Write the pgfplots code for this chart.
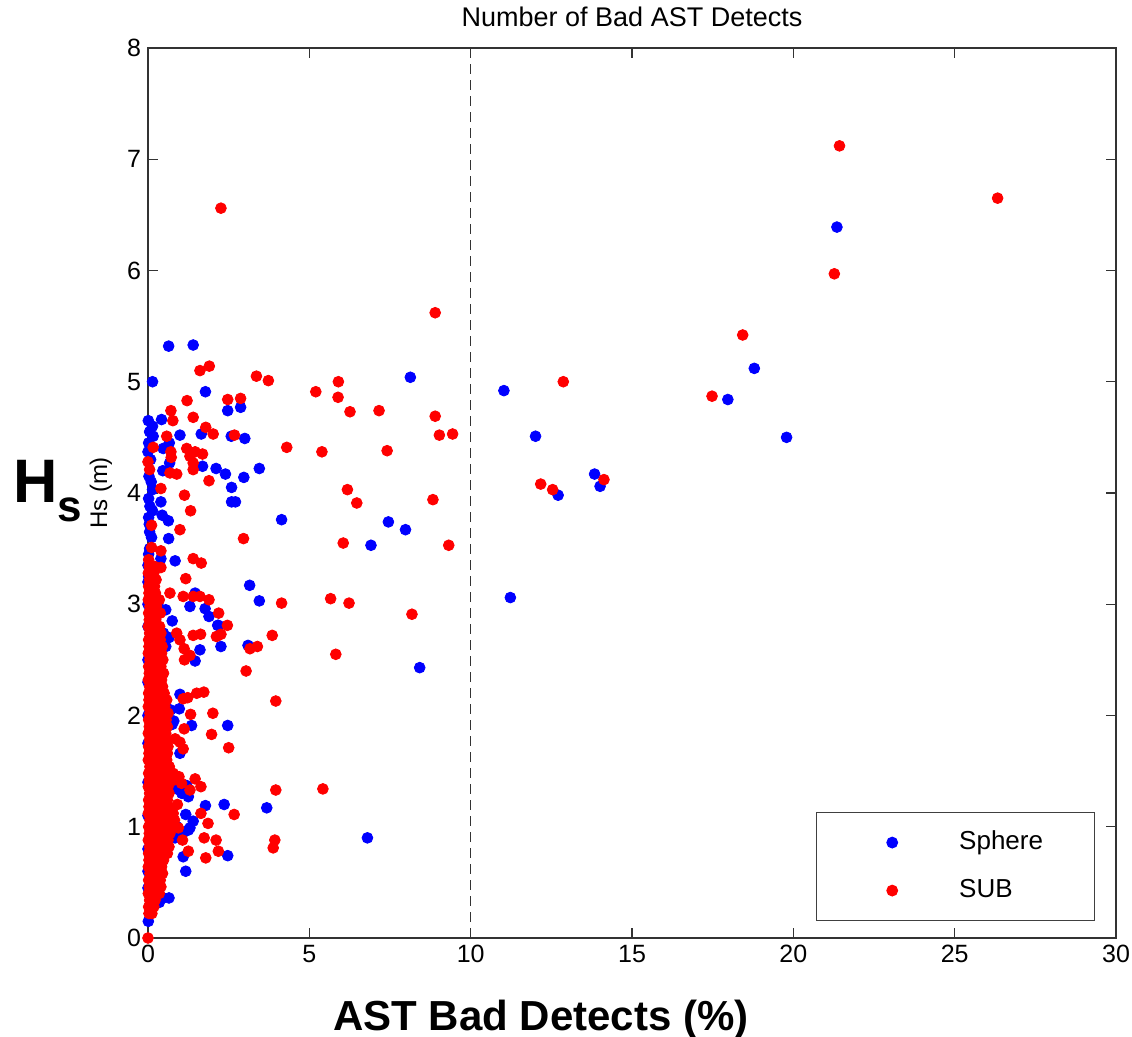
\documentclass[border=0pt]{standalone}
\usepackage{fontspec}
\setmainfont{Liberation Sans}
\usepackage{pgfplots}
\pgfplotsset{compat=1.18}

\begin{document}
\begin{tikzpicture}
\begin{axis}[
  scale only axis, width=484pt, height=445pt,
  xmin=0, xmax=30, ymin=0, ymax=8,
  xtick={0,5,...,30}, ytick={0,1,...,8},
  axis on top,
  axis line style={black!80, line width=0.55pt},
  every tick/.style={black!80, line width=0.55pt},
  major tick length=5pt,
  tick label style={font=\fontsize{12.5}{14}\selectfont},
  /pgf/number format/assume math mode=true,
  title={Number of Bad AST Detects},
  every axis title shift=0pt,
  title style={at={(axis description cs:0.5,1.0236)}, anchor=base, font=\fontsize{13.5}{15}\selectfont},
  xlabel={AST Bad Detects (\%)},
  xlabel style={at={(axis description cs:0.406,-0.1034)}, anchor=base, font=\fontsize{21}{24}\selectfont\bfseries},
  ylabel={Hs (m)},
  ylabel style={at={(axis description cs:-0.0486,0.5)}, anchor=center, font=\fontsize{12}{14}\selectfont},
  legend style={at={(axis description cs:0.978,0.019)}, anchor=south east,
    draw=black!75, line width=0.5pt, inner xsep=6pt, inner ysep=7.5pt, row sep=9pt,
    nodes={inner sep=1.5pt, text height=9.5pt, text depth=2.5pt, font=\fontsize{13}{15}\selectfont}},
  legend cell align=left,
  dotleg/.style={legend image code/.code={\path[draw=none] (0pt,0pt) -- (64pt,0pt);
    \draw[mark repeat=2,mark phase=2,##1,draw=none,mark options={draw=#1,fill=#1}] plot coordinates {(0pt,0pt) (32pt,0pt) (64pt,0pt)};}},
]
% Sphere
\addplot[only marks, mark=*, mark size=2.7pt, color=blue, dotleg=blue] coordinates {
(21.35,6.39) (19.79,4.50) (18.79,5.12) (17.97,4.84) (14.01,4.06) (13.84,4.17)
(12.71,3.98) (12.01,4.51) (11.03,4.92) (11.23,3.06) (8.13,5.04) (7.98,3.67)
(7.45,3.74) (6.91,3.53) (8.42,2.43) (6.80,0.90) (4.14,3.76) (3.45,4.22)
(3.45,3.03) (3.15,3.17) (3.10,2.63) (2.97,4.14) (3.00,4.49) (2.87,4.77)
(2.47,4.74) (2.58,4.51) (2.59,4.05) (2.59,3.92) (2.71,3.92) (2.40,4.17)
(2.11,4.22) (1.69,4.24) (1.65,4.53) (1.78,4.91) (1.40,5.33) (0.64,5.32)
(0.14,5.00) (0.99,4.52) (0.42,4.66) (0.01,4.65) (0.14,4.60) (0.16,4.51)
(0.66,4.45) (0.47,4.40) (0.00,4.37) (0.67,4.27) (0.46,4.20) (0.14,4.03)
(0.40,3.92) (0.14,3.84) (0.44,3.80) (0.63,3.75) (0.04,3.72) (0.11,3.60)
(0.64,3.59) (0.84,3.39) (0.40,3.41) (1.46,3.10) (1.30,2.98) (1.77,2.96)
(1.89,2.89) (2.16,2.81) (2.18,2.81) (0.48,2.74) (2.26,2.62) (1.61,2.59)
(1.46,2.49) (0.55,2.62) (0.99,2.19) (0.97,2.06) (2.47,1.91) (0.75,1.92)
(1.35,1.91) (0.99,1.66) (1.20,1.37) (1.25,1.27) (0.89,1.34) (1.78,1.19)
(2.36,1.20) (3.68,1.17) (1.17,1.11) (1.40,1.05) (1.30,0.99) (1.25,0.97)
(0.84,0.90) (2.47,0.74) (1.09,0.73) (1.17,0.60) (0.47,0.36) (0.65,0.36)
(0.01,0.15)
(0.05,4.55) (0.02,4.45) (0.08,4.30) (0.03,4.15) (0.10,4.10) (0.02,3.95)
(0.06,3.88) (0.02,3.78) (0.05,3.65) (0.02,3.45) (0.10,3.30) (0.02,3.25)
(0.30,3.00) (0.55,2.95) (0.75,2.85) (0.20,2.88) (0.65,2.70) (0.70,2.05)
(0.80,1.95) (0.80,1.45) (0.95,1.40) (1.05,1.30) (0.90,1.00) (1.10,0.95)
(0.35,0.32) (0.25,0.40) (0.00,3.20) (0.00,3.00) (0.00,2.80) (0.00,2.50)
(0.00,2.30) (0.00,2.00) (0.00,1.75) (0.00,1.40) (0.00,1.10) (0.00,0.80)
(0.00,0.60) (0.00,0.45) (0.00,3.35) (0.05,3.50)
};
\addlegendentry{\makebox[60pt][l]{Sphere}}
% SUB
\addplot[only marks, mark=*, mark size=2.7pt, color=red, dotleg=red] coordinates {
(21.43,7.12) (26.33,6.65) (21.27,5.97) (18.43,5.42) (17.48,4.87) (14.13,4.12)
(12.87,5.00) (12.17,4.08) (12.54,4.03) (8.90,5.62) (5.90,5.00) (5.89,4.86)
(6.26,4.73) (7.16,4.74) (8.90,4.69) (9.03,4.52) (9.44,4.53) (7.41,4.38)
(6.18,4.03) (6.47,3.91) (8.83,3.94) (6.05,3.55) (9.32,3.53) (5.66,3.05)
(6.23,3.01) (8.18,2.91) (5.82,2.55) (5.42,1.34) (5.20,4.91) (5.39,4.37)
(4.30,4.41) (3.36,5.05) (3.73,5.01) (1.61,5.10) (1.90,5.14) (2.26,6.56)
(1.21,4.83) (2.47,4.84) (2.87,4.85) (0.71,4.74) (0.77,4.65) (1.40,4.68)
(1.79,4.59) (2.02,4.53) (2.68,4.52) (0.58,4.51) (0.16,4.41) (0.71,4.37)
(1.20,4.40) (1.46,4.37) (1.69,4.35) (1.30,4.33) (1.40,4.27) (0.72,4.32)
(0.00,4.28) (1.40,4.21) (0.05,4.21) (0.68,4.18) (0.89,4.17) (1.89,4.11)
(0.40,4.04) (1.13,3.98) (1.32,3.84) (0.99,3.67) (0.11,3.71) (2.96,3.59)
(0.11,3.51) (0.40,3.48) (1.40,3.41) (1.65,3.37) (0.40,3.33) (1.17,3.23)
(0.68,3.10) (1.09,3.07) (1.40,3.07) (1.61,3.07) (1.89,3.04) (4.14,3.01)
(2.19,2.92) (2.46,2.81) (2.26,2.73) (2.12,2.71) (1.40,2.72) (1.63,2.73)
(3.85,2.72) (0.89,2.74) (0.99,2.68) (3.16,2.60) (3.39,2.62) (1.12,2.60)
(1.30,2.54) (1.13,2.50) (3.04,2.40) (1.51,2.20) (1.73,2.21) (1.09,2.15)
(1.23,2.16) (3.96,2.13) (2.01,2.02) (1.32,2.01) (1.12,1.88) (1.97,1.83)
(2.50,1.71) (1.09,1.70) (0.99,1.76) (0.84,1.79) (0.96,1.45) (1.46,1.43)
(1.64,1.36) (1.30,1.33) (1.04,1.39) (3.96,1.33) (2.67,1.11) (1.64,1.12)
(0.91,1.20) (1.86,1.03) (0.94,0.99) (1.07,0.88) (1.74,0.90) (2.11,0.88)
(3.93,0.88) (3.88,0.81) (1.25,0.78) (2.18,0.78) (1.79,0.72) (0.00,0.00)
(0.03,0.22) (0.12,0.22) (0.02,0.28) (0.18,0.28) (0.05,0.34) (0.22,0.34)
(0.01,0.40) (0.20,0.40) (0.35,0.40) (0.04,0.46) (0.22,0.46) (0.40,0.46)
(0.02,0.52) (0.18,0.52) (0.38,0.52) (0.06,0.58) (0.25,0.58) (0.45,0.58)
(0.01,0.64) (0.20,0.64) (0.42,0.64) (0.03,0.70) (0.24,0.70) (0.48,0.70)
(0.02,0.76) (0.20,0.76) (0.40,0.76) (0.60,0.76) (0.05,0.82) (0.25,0.82)
(0.45,0.82) (0.65,0.82) (0.01,0.88) (0.22,0.88) (0.42,0.88) (0.62,0.88)
(0.04,0.94) (0.24,0.94) (0.44,0.94) (0.68,0.94) (0.02,1.00) (0.20,1.00)
(0.40,1.00) (0.60,1.00) (0.75,1.00) (0.06,1.06) (0.26,1.06) (0.46,1.06)
(0.66,1.06) (0.82,1.06) (0.01,1.12) (0.21,1.12) (0.41,1.12) (0.61,1.12)
(0.78,1.12) (0.03,1.18) (0.23,1.18) (0.43,1.18) (0.63,1.18) (0.02,1.24)
(0.20,1.24) (0.40,1.24) (0.60,1.24) (0.05,1.30) (0.25,1.30) (0.45,1.30)
(0.65,1.30) (0.01,1.36) (0.22,1.36) (0.42,1.36) (0.62,1.36) (0.04,1.42)
(0.24,1.42) (0.44,1.42) (0.64,1.42) (0.80,1.42) (0.02,1.48) (0.20,1.48)
(0.40,1.48) (0.60,1.48) (0.78,1.48) (0.06,1.54) (0.26,1.54) (0.46,1.54)
(0.66,1.54) (0.01,1.60) (0.21,1.60) (0.41,1.60) (0.58,1.60) (0.03,1.66)
(0.23,1.66) (0.43,1.66) (0.60,1.66) (0.02,1.72) (0.20,1.72) (0.40,1.72)
(0.62,1.72) (0.05,1.78) (0.25,1.78) (0.45,1.78) (0.58,1.78) (0.01,1.84)
(0.22,1.84) (0.42,1.84) (0.55,1.84) (0.04,1.90) (0.24,1.90) (0.44,1.90)
(0.60,1.90) (0.02,1.96) (0.20,1.96) (0.40,1.96) (0.56,1.96) (0.06,2.02)
(0.26,2.02) (0.46,2.02) (0.62,2.02) (0.01,2.08) (0.21,2.08) (0.41,2.08)
(0.52,2.08) (0.03,2.14) (0.23,2.14) (0.43,2.14) (0.58,2.14) (0.02,2.20)
(0.20,2.20) (0.40,2.20) (0.50,2.20) (0.05,2.26) (0.25,2.26) (0.45,2.26)
(0.01,2.32) (0.22,2.32) (0.42,2.32) (0.04,2.38) (0.24,2.38) (0.48,2.38)
(0.02,2.44) (0.20,2.44) (0.40,2.44) (0.06,2.50) (0.26,2.50) (0.46,2.50)
(0.01,2.56) (0.21,2.56) (0.42,2.56) (0.03,2.62) (0.23,2.62) (0.44,2.62)
(0.02,2.68) (0.20,2.68) (0.38,2.68) (0.05,2.74) (0.25,2.74) (0.40,2.74)
(0.01,2.80) (0.22,2.80) (0.36,2.80) (0.04,2.86) (0.24,2.86) (0.02,2.92)
(0.20,2.92) (0.38,2.92) (0.06,2.98) (0.26,2.98) (0.01,3.04) (0.21,3.04)
(0.35,3.04) (0.03,3.10) (0.23,3.10) (0.02,3.16) (0.20,3.16) (0.05,3.22)
(0.25,3.22) (0.01,3.28) (0.18,3.28) (0.04,3.34) (0.20,3.34) (0.02,3.40)
};
\addlegendentry{\makebox[60pt][l]{SUB}}
\addplot[black!80, line width=0.5pt, dash pattern=on 5pt off 3pt, forget plot] coordinates {(10,0) (10,8)};
\coordinate (hs) at (axis description cs:-0.1395,0.4888);
\coordinate (bbll) at (axis description cs:-0.1529,-0.1112);
\coordinate (bbur) at (axis description cs:1.0165,1.0539);
\end{axis}
\node[anchor=base west, inner sep=0pt] at (hs) {\fontsize{30.7}{32}\selectfont\bfseries H\raisebox{-9.5pt}{\fontsize{22}{24}\selectfont s}};
\pgfresetboundingbox
\path[use as bounding box] (bbll) rectangle (bbur);
\end{tikzpicture}
\end{document}
